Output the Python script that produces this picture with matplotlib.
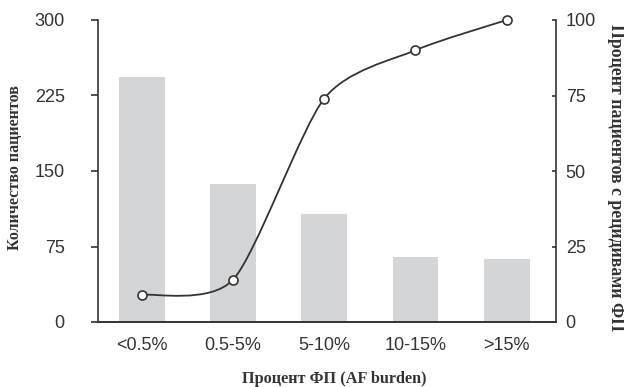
import numpy as np
import matplotlib
matplotlib.use("Agg")
import matplotlib.pyplot as plt
from matplotlib.path import Path
from matplotlib.patches import PathPatch

# data
categories = ["<0.5%", "0.5-5%", "5-10%", "10-15%", ">15%"]
patients = [243, 137, 107, 65, 63]          # left axis, bars
relapse_pct = [9, 14, 74, 90, 100]           # right axis, line
left_ticks = [0, 75, 150, 225, 300]
right_ticks = [0, 25, 50, 75, 100]

dark = "#333333"
bar_col = "#d4d5d7"
sans = ["Liberation Sans", "DejaVu Sans"]
serif = ["Liberation Serif", "DejaVu Serif"]

fig = plt.figure(figsize=(6.24, 3.87), dpi=100)
ax = fig.add_axes([98 / 624, 1 - 322 / 387, 458 / 624, 302 / 387])
ax2 = ax.twinx()

x = np.arange(len(categories))
ax.bar(x, patients, width=0.5, color=bar_col, zorder=1)
ax.set_xlim(-0.48, 4.54)
ax.set_ylim(0, 300)
ax2.set_ylim(0, 100)

# smooth curve through the points (Catmull-Rom as cubic Bezier)
pts = np.column_stack([x, relapse_pct]).astype(float)
ext = np.vstack([pts[0], pts, pts[-1]])
k = 0.75 / 6
verts = [tuple(pts[0])]
codes = [Path.MOVETO]
for i in range(len(pts) - 1):
    p0, p1, p2, p3 = ext[i], ext[i + 1], ext[i + 2], ext[i + 3]
    c1 = p1 + (p2 - p0) * k
    c2 = p2 - (p3 - p1) * k
    verts += [tuple(c1), tuple(c2), tuple(p2)]
    codes += [Path.CURVE4] * 3
ax2.add_patch(PathPatch(Path(verts, codes), facecolor="none", edgecolor=dark, lw=1.3, zorder=3))
ax2.plot(x, relapse_pct, ls="none", marker="o", ms=6.5, mfc="white", mec=dark, mew=1.2,
         zorder=4, clip_on=False)

# spines
for a in (ax, ax2):
    a.spines["top"].set_visible(False)
    for s in ("left", "right", "bottom"):
        a.spines[s].set_color(dark)
        a.spines[s].set_linewidth(1.2)
ax.spines["right"].set_visible(False)
ax2.spines["left"].set_visible(False)

ax.set_xticks(x)
ax.set_xticklabels(categories, fontfamily=sans, fontsize=13, color=dark)
ax.tick_params(axis="x", length=0, pad=11)
ax.set_yticks(left_ticks)
ax.set_yticklabels([str(t) for t in left_ticks], fontfamily=sans, fontsize=13, color=dark)
ax.tick_params(axis="y", direction="out", length=5, width=1.2, color=dark, pad=19)
ax2.set_yticks(right_ticks)
ax2.set_yticklabels([str(t) for t in right_ticks], fontfamily=sans, fontsize=13, color=dark)
ax2.tick_params(axis="y", direction="in", length=3, width=1.2, color=dark, pad=7)

ax.set_xlabel("Процент ФП (AF burden)", fontfamily=serif, fontweight="bold", fontsize=11.7, color=dark)
ax.xaxis.set_label_coords(0.515, -0.163)
ax.set_ylabel("Количество пациентов", fontfamily=serif, fontweight="bold", fontsize=11.5,
              color=dark, va="center")
ax.yaxis.set_label_coords(-0.181, 0.51)
ax2.set_ylabel("Процент пациентов с рецидивами ФП", fontfamily=serif, fontweight="bold",
               fontsize=12.8, color=dark, rotation=270, va="center")
ax2.yaxis.set_label_coords(1.129, 0.48)

fig.savefig("out.png", dpi=100)
